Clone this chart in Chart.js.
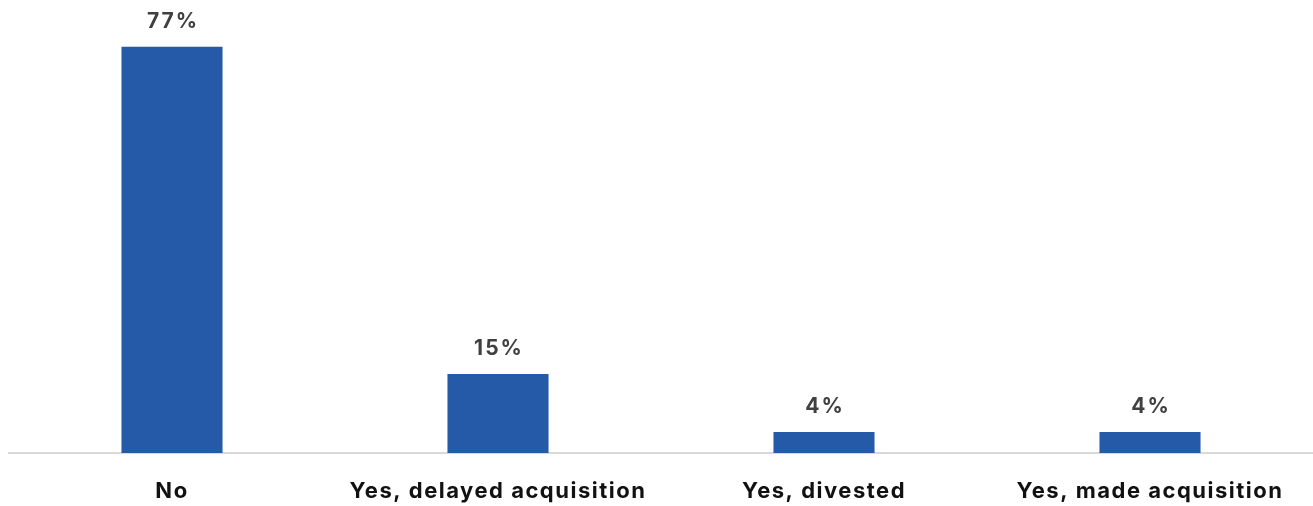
<!DOCTYPE html>
<html>
<head>
<meta charset="utf-8">
<script src="https://cdn.jsdelivr.net/npm/chart.js@4"></script>
<style>
  html, body { margin: 0; padding: 0; background: #fff; }
  #wrap { width: 1313px; height: 506px; }
</style>
</head>
<body>
<div id="wrap"><canvas id="chartImpact"></canvas></div>
<script>
const categories = ["No", "Yes, delayed acquisition", "Yes, divested", "Yes, made acquisition"];
const shares = [77, 15, 4, 4];

const FONT = "Inter, 'Open Sans', sans-serif";

// a bit of tracking so the bold labels read wider
const spacing = {
    id: "spacing",
    beforeDraw(chart) { chart.ctx.letterSpacing = "1.5px"; },
    afterDraw(chart) { chart.ctx.letterSpacing = "0px"; },
};

// draws "NN%" above every bar
const valueLabels = {
    id: "valueLabels",
    afterDatasetsDraw(chart) {
        const ctx = chart.ctx;
        const meta = chart.getDatasetMeta(0);
        ctx.save();
        ctx.font = `700 21px ${FONT}`;
        ctx.letterSpacing = "2px";
        ctx.fillStyle = "#404040";
        ctx.textAlign = "center";
        ctx.textBaseline = "middle";
        meta.data.forEach((bar, i) => {
            ctx.fillText(shares[i] + "%", bar.x + 1, bar.y - 25);
        });
        ctx.restore();
    }
};

new Chart(document.getElementById("chartImpact").getContext("2d"), {
    type: "bar",
    data: {
        labels: categories,
        datasets: [{
            data: shares,
            backgroundColor: "#255AA8",
            borderWidth: 0,
            categoryPercentage: 1,
            barPercentage: 0.31,
        }],
    },
    options: {
        responsive: true,
        maintainAspectRatio: false,
        animation: false,
        layout: { padding: { top: 31, left: 9, right: 0, bottom: 0 } },
        scales: {
            x: {
                afterFit: (scale) => { scale.height = 53; },
                grid: { display: false, drawTicks: false },
                border: { display: true, color: "#d9d9d9", width: 2 },
                ticks: {
                    color: "#111111",
                    padding: 25,
                    maxRotation: 0,
                    autoSkip: false,
                    font: { family: FONT, size: 22, weight: "700" },
                },
            },
            y: {
                display: false,
                min: 0,
                max: 80,
            },
        },
        plugins: {
            legend: { display: false },
            tooltip: { enabled: false },
        },
    },
    plugins: [spacing, valueLabels],
});
</script>
</body>
</html>
